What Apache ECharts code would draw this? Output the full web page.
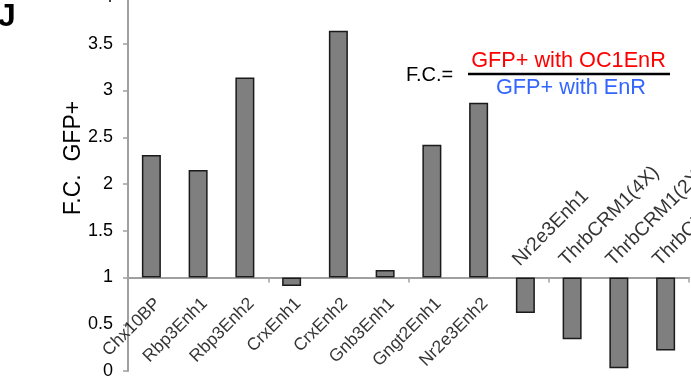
<!DOCTYPE html>
<html>
<head>
<meta charset="utf-8">
<script src="https://cdn.jsdelivr.net/npm/echarts@6/dist/echarts.min.js"></script>
<style>
html,body{margin:0;padding:0;background:#fff;}
#chart{width:691px;height:381px;}
</style>
</head>
<body>
<div id="chart"></div>
<script>
const categories = ['Chx10BP','Rbp3Enh1','Rbp3Enh2','CrxEnh1','CrxEnh2','Gnb3Enh1','Gngt2Enh1','Nr2e3Enh2','Nr2e3Enh1','ThrbCRM1(4X)','ThrbCRM1(2X)','ThrbCRM1(1X)'];
const foldChange = [2.31, 2.15, 3.14, 0.91, 3.64, 1.08, 2.42, 2.87, 0.62, 0.34, 0.03, 0.22];
const labelsAbove = ['Nr2e3Enh1','ThrbCRM1(4X)','ThrbCRM1(2X)','ThrbCRM1(1X)'];
const baseline = 1;
const yMin = 0, yMax = 4, yInterval = 0.5;

const FONT = '"Liberation Sans", Arial, sans-serif';
const chart = echarts.init(document.getElementById('chart'), null, {renderer:'canvas'});

const labelBelow = {
  show: true, position: [7, 24], rotate: 45, align: 'right', verticalAlign: 'middle',
  color: '#000', fontFamily: FONT, fontSize: 17.5
};
const labelAbove = {
  show: true, position: [-9, -14], rotate: 45, align: 'left', verticalAlign: 'middle',
  color: '#000', fontFamily: FONT, fontSize: 19.5
};

chart.setOption({
  animation: false,
  backgroundColor: '#fff',
  grid: {left: 128, right: 2, top: -3, bottom: 10, containLabel: false, outerBoundsMode: 'none'},
  xAxis: {
    type: 'category',
    data: categories,
    axisLine: {onZero: true, lineStyle: {color: '#a0a0a0', width: 2}},
    axisTick: {show: true, length: 5, lineStyle: {color: '#a0a0a0', width: 1.5}},
    axisLabel: {show: false},
    splitLine: {show: false}
  },
  yAxis: {
    type: 'value',
    min: yMin - baseline, max: yMax - baseline, interval: yInterval,
    axisLine: {show: true, lineStyle: {color: '#a0a0a0', width: 2}},
    axisTick: {show: true, length: 5, lineStyle: {color: '#a0a0a0', width: 1.5}},
    axisLabel: {
      margin: 15, color: '#000', fontFamily: FONT, fontSize: 18,
      formatter: v => String(Number((v + baseline).toFixed(2)))
    },
    splitLine: {show: false}
  },
  series: [
    {
      type: 'bar',
      data: foldChange.map(v => v - baseline),
      barWidth: 19,
      silent: true,
      itemStyle: {color: '#7f7f7f', borderColor: '#1a1a1a', borderWidth: 1.5}
    },
    {
      type: 'scatter',
      data: categories.map(n => ({
        value: [n, 0],
        label: labelsAbove.includes(n) ? labelAbove : labelBelow
      })),
      symbolSize: 1,
      silent: true,
      itemStyle: {color: 'rgba(0,0,0,0)'},
      label: {show: true, formatter: p => p.value[0]}
    }
  ],
  graphic: [
    {type: 'text', x: -2, y: 1, style: {text: 'J', font: 'bold 32px ' + FONT, fill: '#000', align: 'left', verticalAlign: 'top'}},
    {type: 'text', x: 74, y: 158, rotation: Math.PI / 2, style: {text: 'F.C.  GFP+', font: '23px ' + FONT, fill: '#000', align: 'center', verticalAlign: 'middle'}},
    {type: 'text', x: 406, y: 75, style: {text: 'F.C.=', font: '20px ' + FONT, fill: '#000', align: 'left', verticalAlign: 'middle'}},
    {type: 'text', x: 568.5, y: 61, style: {text: 'GFP+ with OC1EnR', font: '21.7px ' + FONT, fill: '#ff0000', align: 'center', verticalAlign: 'middle'}},
    {type: 'line', shape: {x1: 468, y1: 74, x2: 670, y2: 74}, style: {stroke: '#000', lineWidth: 2.5}},
    {type: 'text', x: 571, y: 88, style: {text: 'GFP+ with EnR', font: '21.7px ' + FONT, fill: '#3366ff', align: 'center', verticalAlign: 'middle'}}
  ]
});
</script>
</body>
</html>
